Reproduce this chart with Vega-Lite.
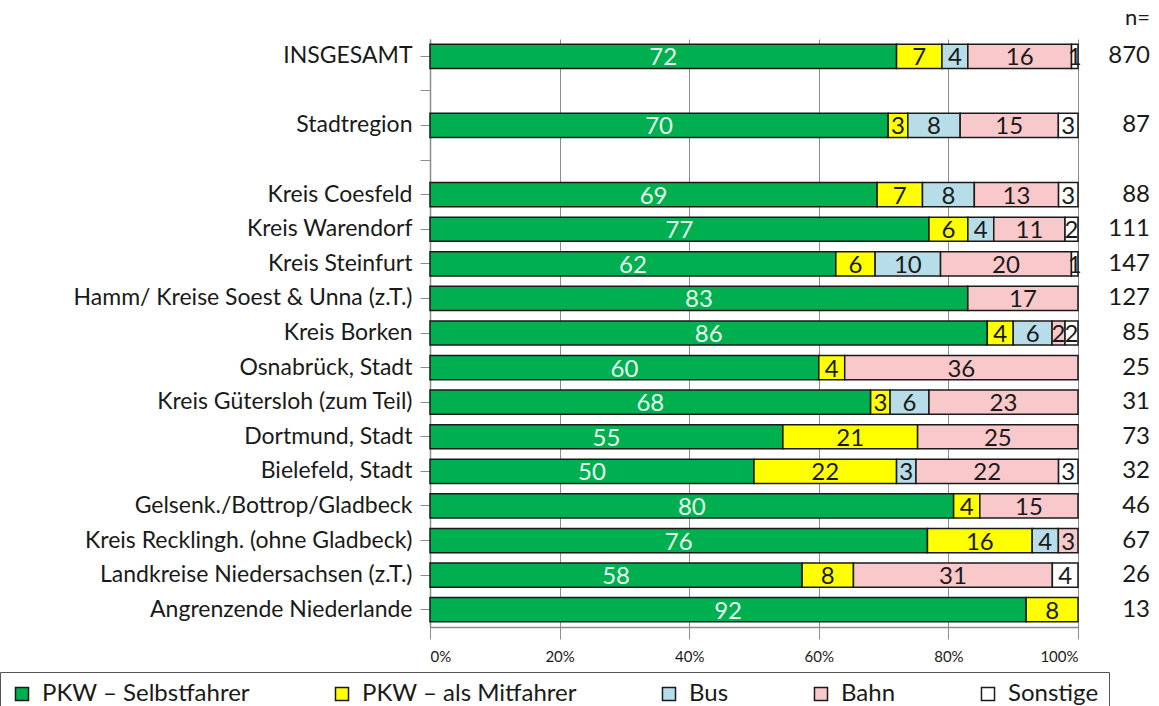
{
  "$schema": "https://vega.github.io/schema/vega-lite/v6.json",
  "width": 648,
  "height": 588,
  "autosize": {"type": "none"},
  "padding": {"left": 430, "top": 39, "right": 81, "bottom": 79},
  "background": "white",
  "config": {
    "view": {"stroke": null},
    "font": "Lato"
  },
  "datasets": {
    "shares": [
      {"region": "INSGESAMT", "mode": "PKW – Selbstfahrer", "value": 72},
      {"region": "INSGESAMT", "mode": "PKW – als Mitfahrer", "value": 7},
      {"region": "INSGESAMT", "mode": "Bus", "value": 4},
      {"region": "INSGESAMT", "mode": "Bahn", "value": 16},
      {"region": "INSGESAMT", "mode": "Sonstige", "value": 1},
      {"region": "Stadtregion ", "mode": "PKW – Selbstfahrer", "value": 70},
      {"region": "Stadtregion ", "mode": "PKW – als Mitfahrer", "value": 3},
      {"region": "Stadtregion ", "mode": "Bus", "value": 8},
      {"region": "Stadtregion ", "mode": "Bahn", "value": 15},
      {"region": "Stadtregion ", "mode": "Sonstige", "value": 3},
      {"region": "Kreis Coesfeld", "mode": "PKW – Selbstfahrer", "value": 69},
      {"region": "Kreis Coesfeld", "mode": "PKW – als Mitfahrer", "value": 7},
      {"region": "Kreis Coesfeld", "mode": "Bus", "value": 8},
      {"region": "Kreis Coesfeld", "mode": "Bahn", "value": 13},
      {"region": "Kreis Coesfeld", "mode": "Sonstige", "value": 3},
      {"region": "Kreis Warendorf", "mode": "PKW – Selbstfahrer", "value": 77},
      {"region": "Kreis Warendorf", "mode": "PKW – als Mitfahrer", "value": 6},
      {"region": "Kreis Warendorf", "mode": "Bus", "value": 4},
      {"region": "Kreis Warendorf", "mode": "Bahn", "value": 11},
      {"region": "Kreis Warendorf", "mode": "Sonstige", "value": 2},
      {"region": "Kreis Steinfurt", "mode": "PKW – Selbstfahrer", "value": 62},
      {"region": "Kreis Steinfurt", "mode": "PKW – als Mitfahrer", "value": 6},
      {"region": "Kreis Steinfurt", "mode": "Bus", "value": 10},
      {"region": "Kreis Steinfurt", "mode": "Bahn", "value": 20},
      {"region": "Kreis Steinfurt", "mode": "Sonstige", "value": 1},
      {"region": "Hamm/ Kreise Soest & Unna (z.T.)", "mode": "PKW – Selbstfahrer", "value": 83},
      {"region": "Hamm/ Kreise Soest & Unna (z.T.)", "mode": "Bahn", "value": 17},
      {"region": "Kreis Borken", "mode": "PKW – Selbstfahrer", "value": 86},
      {"region": "Kreis Borken", "mode": "PKW – als Mitfahrer", "value": 4},
      {"region": "Kreis Borken", "mode": "Bus", "value": 6},
      {"region": "Kreis Borken", "mode": "Bahn", "value": 2},
      {"region": "Kreis Borken", "mode": "Sonstige", "value": 2},
      {"region": "Osnabrück, Stadt", "mode": "PKW – Selbstfahrer", "value": 60},
      {"region": "Osnabrück, Stadt", "mode": "PKW – als Mitfahrer", "value": 4},
      {"region": "Osnabrück, Stadt", "mode": "Bahn", "value": 36},
      {"region": "Kreis Gütersloh (zum Teil)", "mode": "PKW – Selbstfahrer", "value": 68},
      {"region": "Kreis Gütersloh (zum Teil)", "mode": "PKW – als Mitfahrer", "value": 3},
      {"region": "Kreis Gütersloh (zum Teil)", "mode": "Bus", "value": 6},
      {"region": "Kreis Gütersloh (zum Teil)", "mode": "Bahn", "value": 23},
      {"region": "Dortmund, Stadt", "mode": "PKW – Selbstfahrer", "value": 55},
      {"region": "Dortmund, Stadt", "mode": "PKW – als Mitfahrer", "value": 21},
      {"region": "Dortmund, Stadt", "mode": "Bahn", "value": 25},
      {"region": "Bielefeld, Stadt", "mode": "PKW – Selbstfahrer", "value": 50},
      {"region": "Bielefeld, Stadt", "mode": "PKW – als Mitfahrer", "value": 22},
      {"region": "Bielefeld, Stadt", "mode": "Bus", "value": 3},
      {"region": "Bielefeld, Stadt", "mode": "Bahn", "value": 22},
      {"region": "Bielefeld, Stadt", "mode": "Sonstige", "value": 3},
      {"region": "Gelsenk./Bottrop/Gladbeck", "mode": "PKW – Selbstfahrer", "value": 80},
      {"region": "Gelsenk./Bottrop/Gladbeck", "mode": "PKW – als Mitfahrer", "value": 4},
      {"region": "Gelsenk./Bottrop/Gladbeck", "mode": "Bahn", "value": 15},
      {"region": "Kreis Recklingh. (ohne Gladbeck)", "mode": "PKW – Selbstfahrer", "value": 76},
      {"region": "Kreis Recklingh. (ohne Gladbeck)", "mode": "PKW – als Mitfahrer", "value": 16},
      {"region": "Kreis Recklingh. (ohne Gladbeck)", "mode": "Bus", "value": 4},
      {"region": "Kreis Recklingh. (ohne Gladbeck)", "mode": "Bahn", "value": 3},
      {"region": "Landkreise Niedersachsen (z.T.)", "mode": "PKW – Selbstfahrer", "value": 58},
      {"region": "Landkreise Niedersachsen (z.T.)", "mode": "PKW – als Mitfahrer", "value": 8},
      {"region": "Landkreise Niedersachsen (z.T.)", "mode": "Bahn", "value": 31},
      {"region": "Landkreise Niedersachsen (z.T.)", "mode": "Sonstige", "value": 4},
      {"region": "Angrenzende Niederlande", "mode": "PKW – Selbstfahrer", "value": 92},
      {"region": "Angrenzende Niederlande", "mode": "PKW – als Mitfahrer", "value": 8}
    ],
    "counts": [
      {"region": "INSGESAMT", "n": 870},
      {"region": "Stadtregion ", "n": 87},
      {"region": "Kreis Coesfeld", "n": 88},
      {"region": "Kreis Warendorf", "n": 111},
      {"region": "Kreis Steinfurt", "n": 147},
      {"region": "Hamm/ Kreise Soest & Unna (z.T.)", "n": 127},
      {"region": "Kreis Borken", "n": 85},
      {"region": "Osnabrück, Stadt", "n": 25},
      {"region": "Kreis Gütersloh (zum Teil)", "n": 31},
      {"region": "Dortmund, Stadt", "n": 73},
      {"region": "Bielefeld, Stadt", "n": 32},
      {"region": "Gelsenk./Bottrop/Gladbeck", "n": 46},
      {"region": "Kreis Recklingh. (ohne Gladbeck)", "n": 67},
      {"region": "Landkreise Niedersachsen (z.T.)", "n": 26},
      {"region": "Angrenzende Niederlande", "n": 13}
    ],
    "header": [{"region": "INSGESAMT", "label": "n="}]
  },
  "layer": [
    {
      "data": {"name": "shares"},
      "transform": [
        {"calculate": "indexof(['PKW – Selbstfahrer','PKW – als Mitfahrer','Bus','Bahn','Sonstige'], datum.mode)", "as": "k"},
        {"stack": "value", "groupby": ["region"], "sort": [{"field": "k", "order": "ascending"}], "offset": "normalize", "as": ["x0", "x1"]}
      ],
      "mark": {"type": "bar", "stroke": "#1a1a1a", "strokeWidth": 1.5},
      "encoding": {
        "y": {
          "field": "region",
          "type": "nominal",
          "scale": {
            "domain": ["INSGESAMT", "_1", "Stadtregion ", "_2", "Kreis Coesfeld", "Kreis Warendorf", "Kreis Steinfurt", "Hamm/ Kreise Soest & Unna (z.T.)", "Kreis Borken", "Osnabrück, Stadt", "Kreis Gütersloh (zum Teil)", "Dortmund, Stadt", "Bielefeld, Stadt", "Gelsenk./Bottrop/Gladbeck", "Kreis Recklingh. (ohne Gladbeck)", "Landkreise Niedersachsen (z.T.)", "Angrenzende Niederlande"],
            "paddingInner": 0.3,
            "paddingOuter": 0.15
          },
          "axis": {
            "title": null,
            "labelExpr": "indexof(datum.value, '_') == 0 ? '' : datum.value",
            "labelFontSize": 23,
            "labelColor": "#1a1a1a",
            "labelPadding": 8,
            "labelLimit": 460,
            "tickSize": 10,
            "tickColor": "#8c8c8c",
            "domainColor": "#8c8c8c",
            "domainWidth": 1.5
          }
        },
        "x": {
          "field": "x0",
          "type": "quantitative",
          "scale": {"domain": [0, 1]},
          "axis": {
            "title": null,
            "format": ".0%",
            "values": [0, 0.2, 0.4, 0.6, 0.8, 1],
            "labelFontSize": 15,
            "labelColor": "#1a1a1a",
            "labelPadding": 10,
            "tickSize": 12,
            "tickColor": "#8c8c8c",
            "domainColor": "#8c8c8c",
            "domainWidth": 1.5,
            "grid": true,
            "gridColor": "#8c8c8c",
            "gridWidth": 1
          }
        },
        "x2": {"field": "x1"},
        "color": {
          "field": "mode",
          "type": "nominal",
          "scale": {
            "domain": ["PKW – Selbstfahrer", "PKW – als Mitfahrer", "Bus", "Bahn", "Sonstige"],
            "range": ["#00B050", "#FFFF00", "#B7DDE8", "#F9C8CB", "#FFFFFF"]
          },
          "legend": {
            "title": null,
            "orient": "none",
            "legendX": -430,
            "legendY": 633,
            "direction": "horizontal",
            "symbolType": "square",
            "symbolSize": 170,
            "symbolStrokeColor": "#1a1a1a",
            "symbolStrokeWidth": 1.5,
            "symbolOpacity": 1,
            "labelFontSize": 24,
            "labelColor": "#1a1a1a",
            "labelLimit": 400,
            "labelOffset": 8,
            "columnPadding": 80,
            "strokeColor": "#555555",
            "fillColor": "white",
            "padding": 10
          }
        }
      }
    },
    {
      "data": {"name": "shares"},
      "transform": [
        {"calculate": "indexof(['PKW – Selbstfahrer','PKW – als Mitfahrer','Bus','Bahn','Sonstige'], datum.mode)", "as": "k"},
        {"stack": "value", "groupby": ["region"], "sort": [{"field": "k", "order": "ascending"}], "offset": "normalize", "as": ["x0", "x1"]},
        {"calculate": "(datum.x0 + datum.x1) / 2", "as": "xm"}
      ],
      "mark": {"type": "text", "fontSize": 24, "baseline": "middle", "dy": 2},
      "encoding": {
        "y": {"field": "region", "type": "nominal"},
        "x": {"field": "xm", "type": "quantitative"},
        "text": {"field": "value", "type": "quantitative"},
        "color": {
          "condition": {"test": "datum.mode === 'PKW – Selbstfahrer'", "value": "#E8F8EC"},
          "value": "#1a1a1a"
        }
      }
    },
    {
      "data": {"name": "counts"},
      "mark": {"type": "text", "fontSize": 24, "align": "right", "baseline": "middle", "dx": 72, "color": "#1a1a1a"},
      "encoding": {
        "y": {"field": "region", "type": "nominal"},
        "x": {"datum": 1, "type": "quantitative"},
        "text": {"field": "n", "type": "quantitative"}
      }
    },
    {
      "data": {"name": "header"},
      "mark": {"type": "text", "fontSize": 22, "align": "right", "baseline": "middle", "dx": 72, "dy": -38, "color": "#1a1a1a"},
      "encoding": {
        "y": {"field": "region", "type": "nominal"},
        "x": {"datum": 1, "type": "quantitative"},
        "text": {"field": "label", "type": "nominal"}
      }
    }
  ]
}
